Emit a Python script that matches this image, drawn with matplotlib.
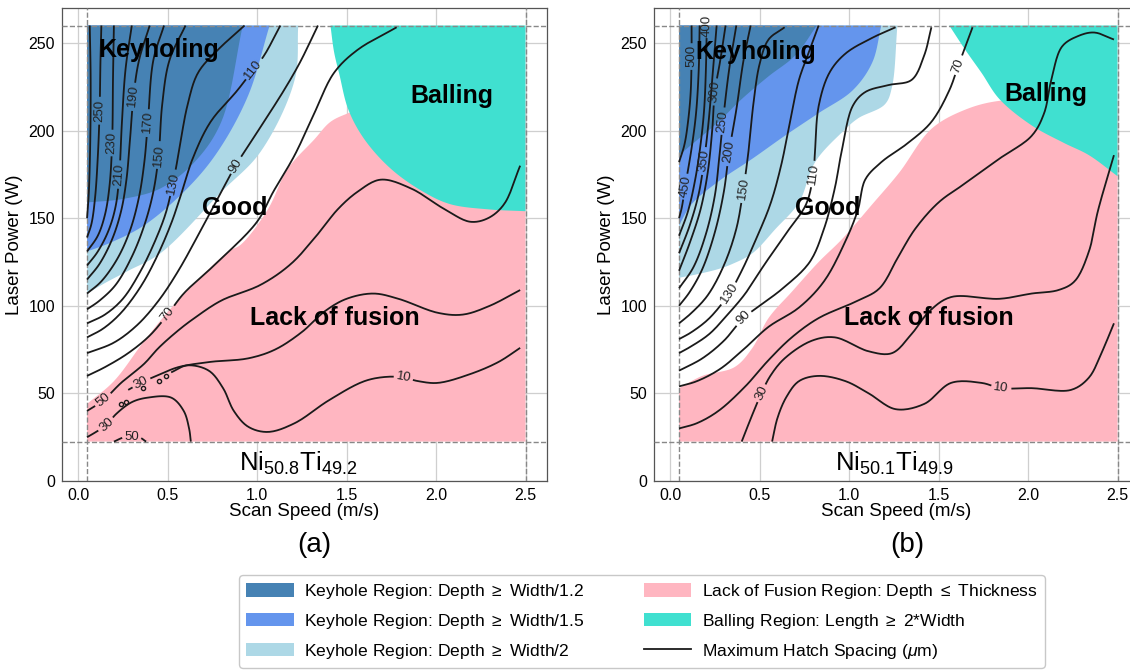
import numpy as np
import matplotlib
matplotlib.use("Agg")
import matplotlib.pyplot as plt
from matplotlib.patches import Patch, Polygon
from matplotlib.lines import Line2D

plt.rcParams['font.family'] = ['Liberation Sans', 'DejaVu Sans']
plt.rcParams['mathtext.fontset'] = 'custom'
plt.rcParams['mathtext.rm'] = 'Liberation Sans'
plt.rcParams['mathtext.it'] = 'Liberation Sans:italic'

# ---------------- process window ----------------
SPEED_LO, SPEED_HI = 0.05, 2.5
POWER_LO, POWER_HI = 22.5, 260.0

C_KEY12 = '#4682B4'
C_KEY15 = '#6495ED'
C_KEY2 = '#ADD8E6'
C_LOF = '#FFB6C1'
C_BALL = '#40E0D0'

# ---------------- Ni50.8Ti49.2 : region boundaries (speed m/s, power W) ----------------
a_key12_v = [0.92, 0.80, 0.65, 0.46, 0.25, 0.05]
a_key12_p = [260, 205, 182, 167, 161, 159]
a_key15_v = [1.07, 0.95, 0.78, 0.61, 0.37, 0.18, 0.05]
a_key15_p = [260, 220, 188, 167, 146, 136, 131]
a_key2_v = [1.23, 1.21, 1.02, 0.80, 0.46, 0.28, 0.15, 0.05]
a_key2_p = [260, 229, 188, 165, 130, 120, 113, 107]
a_lof_v = [0.05, 0.20, 0.37, 0.54, 0.84, 0.91, 1.06, 1.17, 1.32, 1.41, 1.51, 1.62, 2.0, 2.5]
a_lof_p = [44, 57, 80, 101, 131, 135, 155, 178, 195, 205, 210, 214, 214, 214]
a_ball_v = [1.41, 1.43, 1.46, 1.51, 1.60, 1.75, 1.93, 2.08, 2.30, 2.5]
a_ball_p = [260, 245, 232, 212, 195, 178, 165, 158, 155, 154]

# ---------------- Ni50.8Ti49.2 : maximum hatch spacing contours (um) ----------------
a_h270_v = [0.065, 0.07, 0.068, 0.06, 0.05]
a_h270_p = [260, 230, 195, 165, 150]
a_h250_v = [0.13, 0.125, 0.12, 0.11, 0.095, 0.075, 0.05]
a_h250_p = [260, 240, 211, 185, 162, 147, 139]
a_h230_v = [0.20, 0.195, 0.19, 0.175, 0.15, 0.11, 0.05]
a_h230_p = [260, 230, 193, 168, 152, 140, 131]
a_h210_v = [0.30, 0.265, 0.245, 0.23, 0.21, 0.17, 0.11, 0.05]
a_h210_p = [260, 235, 205, 175, 157, 143, 131, 123]
a_h190_v = [0.40, 0.34, 0.31, 0.29, 0.27, 0.24, 0.19, 0.12, 0.05]
a_h190_p = [260, 240, 220, 195, 172, 154, 138, 124, 115]
a_h170_v = [0.48, 0.42, 0.39, 0.37, 0.34, 0.29, 0.22, 0.13, 0.05]
a_h170_p = [260, 240, 205, 182, 162, 143, 127, 114, 107]
a_h150_v = [0.60, 0.51, 0.47, 0.45, 0.42, 0.37, 0.30, 0.21, 0.12, 0.05]
a_h150_p = [260, 240, 215, 186, 165, 146, 128, 112, 103, 98]
a_h130_v = [0.93, 0.78, 0.67, 0.61, 0.56, 0.53, 0.49, 0.43, 0.35, 0.25, 0.15, 0.05]
a_h130_p = [260, 246, 233, 214, 186, 170, 153, 137, 120, 104, 95, 90]
a_h110_v = [1.13, 1.04, 0.98, 0.89, 0.74, 0.64, 0.58, 0.52, 0.44, 0.35, 0.24, 0.14, 0.05]
a_h110_p = [260, 243, 235, 223, 205, 184, 165, 147, 128, 111, 96, 87, 82]
a_h90_v = [1.34, 1.24, 1.15, 1.00, 0.88, 0.81, 0.69, 0.56, 0.45, 0.33, 0.20, 0.05]
a_h90_p = [260, 239, 223, 199, 180, 167, 144, 120, 103, 89, 79, 73]
a_h70_v = [1.78, 1.56, 1.43, 1.32, 1.21, 1.09, 1.00, 0.78, 0.59, 0.50, 0.40, 0.28, 0.15, 0.05]
a_h70_p = [259, 246, 233, 210, 186, 165, 148, 125, 107, 95, 83, 73, 65, 60]
a_h50_v = [2.47, 2.38, 2.29, 2.19, 2.05, 1.86, 1.69, 1.56, 1.45, 1.34, 1.19, 1.02, 0.80,
           0.65, 0.56, 0.45, 0.37, 0.24, 0.14, 0.05]
a_h50_p = [180, 158, 150, 148, 155, 167, 172, 165, 155, 141, 124, 112, 103,
           93, 86, 76, 67, 56, 46, 40]
a_h30_v = [2.47, 2.30, 2.15, 2.01, 1.79, 1.65, 1.50, 1.38, 1.25, 1.10, 0.95, 0.74, 0.56,
           0.46, 0.35, 0.28]
a_h30_p = [109, 100, 95, 96, 104, 107, 104, 97, 85, 75, 70, 68, 65, 61, 56, 52]
a_h10_v = [0.52, 0.61, 0.73, 0.81, 0.87, 0.95, 1.06, 1.21, 1.40, 1.60, 1.73, 1.82, 1.90,
           2.01, 2.19, 2.35, 2.47]
a_h10_p = [62, 66, 63, 53, 40, 31, 28, 33, 46, 57, 59.5, 59, 57, 56, 61, 68, 76]
a_h30b_v = [0.05, 0.10, 0.16, 0.21, 0.30, 0.39, 0.52, 0.59, 0.62, 0.63]
a_h30b_p = [25, 28, 32, 38, 45, 47.6, 47.6, 40, 30, 22.5]
a_h50b_v = [0.20, 0.26, 0.34, 0.38]
a_h50b_p = [22.5, 25, 25, 22.5]
a_isle_v = [0.24, 0.27, 0.36, 0.45, 0.49]
a_isle_p = [44, 45, 53, 57, 60]

a_levels = [270, 250, 230, 210, 190, 170, 150, 130, 110, 90, 70, 50, 30, 10, 30, 50]
a_lab_v = [None, 0.12, 0.19, 0.23, 0.31, 0.39, 0.45, 0.53, 0.98, 0.88, 0.50, 0.14, 0.35, 1.82, 0.16, 0.30]
a_lab_p = [None, 211, 193, 175, 220, 205, 186, 170, 235, 180, 95, 46, 56, 59, 32, 25]

# ---------------- Ni50.1Ti49.9 : region boundaries ----------------
b_key12_v = [0.82, 0.70, 0.55, 0.40, 0.27, 0.12, 0.05]
b_key12_p = [260, 243, 231, 218, 205, 192, 186]
b_key15_v = [1.18, 1.13, 1.02, 0.83, 0.64, 0.46, 0.27, 0.12, 0.05]
b_key15_p = [260, 239, 223, 210, 197, 184, 171, 158, 146]
b_key2_v = [1.27, 1.24, 1.20, 1.05, 0.96, 0.81, 0.72, 0.59, 0.46, 0.35, 0.27, 0.15, 0.05]
b_key2_p = [260, 225, 215, 207, 199, 182, 159, 144, 130, 124, 121, 118, 116]
b_lof_v = [0.05, 0.18, 0.36, 0.46, 0.55, 0.68, 0.83, 0.96, 1.13, 1.28, 1.46, 1.65, 1.84, 2.1, 2.5]
b_lof_p = [53, 60, 65, 76, 93, 108, 125, 138, 158, 176, 201, 212, 217, 217, 217]
b_ball_v = [1.56, 1.65, 1.74, 1.84, 2.02, 2.20, 2.34, 2.5]
b_ball_p = [260, 246, 233, 218, 203, 193, 186, 174]

# ---------------- Ni50.1Ti49.9 : maximum hatch spacing contours (um) ----------------
b_h500_v = [0.12, 0.12, 0.115, 0.10, 0.08, 0.05]
b_h500_p = [260, 244, 222, 205, 192, 182]
b_h450_v = [0.165, 0.16, 0.145, 0.12, 0.084, 0.065, 0.05]
b_h450_p = [260, 235, 210, 190, 168, 156, 150]
b_h400_v = [0.205, 0.20, 0.19, 0.17, 0.14, 0.10, 0.05]
b_h400_p = [260, 235, 212, 192, 172, 154, 140]
b_h350_v = [0.26, 0.24, 0.215, 0.19, 0.16, 0.11, 0.05]
b_h350_p = [260, 235, 205, 183, 164, 146, 130]
b_h300_v = [0.31, 0.28, 0.25, 0.235, 0.21, 0.17, 0.11, 0.05]
b_h300_p = [260, 240, 222, 200, 176, 155, 136, 120]
b_h250_v = [0.37, 0.33, 0.295, 0.275, 0.25, 0.20, 0.13, 0.05]
b_h250_p = [260, 235, 205, 185, 163, 141, 122, 110]
b_h200_v = [0.45, 0.41, 0.37, 0.33, 0.30, 0.25, 0.18, 0.11, 0.05]
b_h200_p = [260, 240, 212, 188, 165, 142, 121, 108, 100]
b_h150_v = [0.64, 0.55, 0.50, 0.465, 0.44, 0.41, 0.37, 0.30, 0.21, 0.12, 0.05]
b_h150_p = [259, 252, 238, 215, 190, 167, 144, 123, 106, 96, 90]
b_h130_v = [0.83, 0.78, 0.72, 0.67, 0.62, 0.56, 0.48, 0.40, 0.33, 0.22, 0.12, 0.05]
b_h130_p = [260, 246, 229, 205, 180, 158, 138, 120, 107, 93, 85, 81]
b_h110_v = [1.26, 1.13, 0.98, 0.89, 0.83, 0.81, 0.80, 0.76, 0.66, 0.53, 0.42, 0.33, 0.22, 0.12, 0.05]
b_h110_p = [259, 253, 244, 233, 214, 189, 175, 158, 143, 124, 107, 96, 84, 77, 73]
b_h90_v = [1.46, 1.42, 1.35, 1.22, 1.09, 1.02, 0.96, 0.92, 0.86, 0.78, 0.63, 0.50, 0.41, 0.30,
           0.18, 0.05]
b_h90_p = [259, 243, 229, 226, 222, 214, 189, 167, 144, 125, 110, 100, 93, 80, 70, 63]
b_h70_v = [1.69, 1.61, 1.56, 1.46, 1.33, 1.18, 1.09, 1.05, 0.98, 0.86, 0.72, 0.55, 0.42, 0.28,
           0.15, 0.05]
b_h70_p = [259, 237, 223, 205, 193, 182, 172, 155, 137, 114, 99, 88, 76, 64, 57, 54]
b_h50_v = [2.48, 2.37, 2.28, 2.19, 2.13, 2.09, 2.02, 1.84, 1.65, 1.50, 1.37, 1.28, 1.17, 1.05,
           0.83, 0.68, 0.55, 0.42, 0.27, 0.15, 0.05]
b_h50_p = [252, 256, 254, 248, 229, 210, 197, 184, 170, 159, 144, 129, 110, 103,
           93, 82, 69, 54, 40, 33, 30]
b_h30_v = [2.48, 2.39, 2.34, 2.26, 2.17, 2.02, 1.84, 1.57, 1.45, 1.35, 1.24, 1.11, 0.92, 0.79,
           0.64, 0.56, 0.51, 0.46, 0.40]
b_h30_p = [186, 154, 131, 114, 109, 107, 104, 105, 97, 84, 73, 74, 82, 80, 70, 60, 50, 38, 22.5]
b_h10_v = [2.48, 2.41, 2.34, 2.24, 2.02, 1.85, 1.74, 1.57, 1.42, 1.26, 1.11, 0.98, 0.83, 0.72,
           0.65, 0.60, 0.57]
b_h10_p = [90, 73, 59, 52, 53, 53, 56, 56, 44, 41, 50, 57, 60, 57, 48, 36, 22.5]

b_levels = [500, 450, 400, 350, 300, 250, 200, 150, 130, 110, 90, 70, 50, 30, 10]
b_lab_v = [0.12, 0.084, 0.205, 0.19, 0.25, 0.295, 0.33, 0.41, 0.33, 0.80, 0.41, 1.61, None, 0.51, 1.85]
b_lab_p = [243, 168, 259.5, 183, 222, 205, 188, 167, 107, 175, 93, 237, None, 50, 53]

region_labels = ['Keyhole Region: Depth $\\geq$ Width/1.2',
                 'Keyhole Region: Depth $\\geq$ Width/1.5',
                 'Keyhole Region: Depth $\\geq$ Width/2',
                 'Lack of Fusion Region: Depth $\\leq$ Thickness',
                 'Balling Region: Length $\\geq$ 2*Width',
                 'Maximum Hatch Spacing ($\\mu$m)']
alloy_names = ['Ni$_{50.8}$Ti$_{49.2}$', 'Ni$_{50.1}$Ti$_{49.9}$']
panel_tags = ['(a)', '(b)']

# --------------------------------------------------------------------------


def smooth_path(pts, n=14):
    """Centripetal Catmull-Rom curve through the given display-space points."""
    pts = np.asarray(pts, float)
    if len(pts) < 3:
        return np.linspace(pts[0], pts[-1], n)
    P = np.vstack([2 * pts[0] - pts[1], pts, 2 * pts[-1] - pts[-2]])
    out = []
    for i in range(1, len(P) - 2):
        p0, p1, p2, p3 = P[i - 1], P[i], P[i + 1], P[i + 2]
        d01 = max(np.hypot(*(p1 - p0)), 1e-6) ** 0.5
        d12 = max(np.hypot(*(p2 - p1)), 1e-6) ** 0.5
        d23 = max(np.hypot(*(p3 - p2)), 1e-6) ** 0.5
        t0, t1 = 0.0, d01
        t2 = t1 + d12
        t3 = t2 + d23
        t = np.linspace(t1, t2, n, endpoint=False)[:, None]
        A1 = (t1 - t) / (t1 - t0) * p0 + (t - t0) / (t1 - t0) * p1
        A2 = (t2 - t) / (t2 - t1) * p1 + (t - t1) / (t2 - t1) * p2
        A3 = (t3 - t) / (t3 - t2) * p2 + (t - t2) / (t3 - t2) * p3
        B1 = (t2 - t) / (t2 - t0) * A1 + (t - t0) / (t2 - t0) * A2
        B2 = (t3 - t) / (t3 - t1) * A2 + (t - t1) / (t3 - t1) * A3
        out.append((t2 - t) / (t2 - t1) * B1 + (t - t1) / (t2 - t1) * B2)
    out.append(pts[-1:])
    return np.vstack(out)


def corner_region(ax, v, p, corners, color):
    disp = ax.transData.transform(np.column_stack([v, p]))
    curve = ax.transData.inverted().transform(smooth_path(disp))
    pts = np.vstack([curve, np.asarray(corners, float)])
    ax.add_patch(Polygon(pts, closed=True, facecolor=color, edgecolor='none', zorder=1))


def hatch_line(ax, v, p, text=None, at=None):
    disp = ax.transData.transform(np.column_stack([v, p]))
    dense = smooth_path(disp).astype(float)
    if text is not None and at is not None and at[0] is not None:
        c = ax.transData.transform(at)
        k = int(np.argmin(np.hypot(*(dense - c).T)))
        a = dense[max(k - 5, 0)]
        b = dense[min(k + 5, len(dense) - 1)]
        ang = np.degrees(np.arctan2(b[1] - a[1], b[0] - a[0]))
        if ang > 90:
            ang -= 180
        if ang < -90:
            ang += 180
        centre = dense[k].copy()
        half = 0.5 * (len(text) * 6.3 + 6)
        dense[np.hypot(*(dense - centre).T) < half] = np.nan
        tx, ty = ax.transData.inverted().transform(centre)
        ax.text(tx, ty, text, rotation=ang, rotation_mode='anchor', ha='center', va='center',
                fontsize=9.5, color='#222222', zorder=5)
    data = ax.transData.inverted().transform(dense)
    ax.plot(data[:, 0], data[:, 1], color='#1a1a1a', lw=1.3, zorder=4, solid_capstyle='butt')


fig = plt.figure(figsize=(11.3, 6.72), dpi=100)
ax_a = fig.add_axes([62 / 1130, 1 - 481 / 672, 485 / 1130, 473 / 672])
ax_b = fig.add_axes([654 / 1130, 1 - 481 / 672, 485 / 1130, 473 / 672])

panels = [
    (ax_a,
     (a_key12_v, a_key12_p), (a_key15_v, a_key15_p), (a_key2_v, a_key2_p),
     (a_lof_v, a_lof_p), (a_ball_v, a_ball_p),
     [(a_h270_v, a_h270_p), (a_h250_v, a_h250_p), (a_h230_v, a_h230_p), (a_h210_v, a_h210_p),
      (a_h190_v, a_h190_p), (a_h170_v, a_h170_p), (a_h150_v, a_h150_p), (a_h130_v, a_h130_p),
      (a_h110_v, a_h110_p), (a_h90_v, a_h90_p), (a_h70_v, a_h70_p), (a_h50_v, a_h50_p),
      (a_h30_v, a_h30_p), (a_h10_v, a_h10_p), (a_h30b_v, a_h30b_p), (a_h50b_v, a_h50b_p)],
     a_levels, a_lab_v, a_lab_p),
    (ax_b,
     (b_key12_v, b_key12_p), (b_key15_v, b_key15_p), (b_key2_v, b_key2_p),
     (b_lof_v, b_lof_p), (b_ball_v, b_ball_p),
     [(b_h500_v, b_h500_p), (b_h450_v, b_h450_p), (b_h400_v, b_h400_p), (b_h350_v, b_h350_p),
      (b_h300_v, b_h300_p), (b_h250_v, b_h250_p), (b_h200_v, b_h200_p), (b_h150_v, b_h150_p),
      (b_h130_v, b_h130_p), (b_h110_v, b_h110_p), (b_h90_v, b_h90_p), (b_h70_v, b_h70_p),
      (b_h50_v, b_h50_p), (b_h30_v, b_h30_p), (b_h10_v, b_h10_p)],
     b_levels, b_lab_v, b_lab_p),
]

text_pos = [
    dict(key=(0.45, 246), ball=(2.09, 220), good=(0.876, 156), lof=(1.434, 93), alloy=(1.23, 10)),
    dict(key=(0.48, 245), ball=(2.10, 221), good=(0.88, 156), lof=(1.445, 93), alloy=(1.25, 10)),
]

for idx, (ax, k12, k15, k2, lof, ball, lines, levels, lab_v, lab_p) in enumerate(panels):
    ax.set_xlim(-0.09, 2.62)
    ax.set_ylim(0, 270)
    ax.set_xticks([0.0, 0.5, 1.0, 1.5, 2.0, 2.5])
    ax.set_yticks([0, 50, 100, 150, 200, 250])
    ax.tick_params(labelsize=11.5, length=0, pad=5)
    ax.grid(True, color='#cfcfcf', lw=0.9, zorder=0)
    ax.set_axisbelow(True)
    for s in ax.spines.values():
        s.set_color('#555555')
        s.set_linewidth(0.9)
    ax.set_xlabel('Scan Speed (m/s)', fontsize=13.5, labelpad=0)
    ax.set_ylabel('Laser Power (W)', fontsize=13.5, labelpad=4)

    corner_region(ax, lof[0], lof[1], [(SPEED_HI, POWER_LO), (SPEED_LO, POWER_LO)], C_LOF)
    corner_region(ax, ball[0], ball[1], [(SPEED_HI, POWER_HI)], C_BALL)
    corner_region(ax, k2[0], k2[1], [(SPEED_LO, POWER_HI)], C_KEY2)
    corner_region(ax, k15[0], k15[1], [(SPEED_LO, POWER_HI)], C_KEY15)
    corner_region(ax, k12[0], k12[1], [(SPEED_LO, POWER_HI)], C_KEY12)

    for (v, p), lev, lv, lp in zip(lines, levels, lab_v, lab_p):
        hatch_line(ax, v, p, str(lev) if lv is not None else None, (lv, lp))

    if idx == 0:
        ax.plot(a_isle_v, a_isle_p, 'o', ms=3, mfc='none', mec='#1a1a1a', mew=1.0, zorder=4)

    for yv in (POWER_LO, POWER_HI):
        ax.axhline(yv, color='#888888', ls='--', lw=1.0, zorder=3)
    for xv in (SPEED_LO, SPEED_HI):
        ax.axvline(xv, color='#888888', ls='--', lw=1.0, zorder=3)

    tp = text_pos[idx]
    bold = dict(fontsize=18, fontweight='bold', ha='center', va='center', zorder=6)
    ax.text(*tp['key'], 'Keyholing', **bold)
    ax.text(*tp['ball'], 'Balling', **bold)
    ax.text(*tp['good'], 'Good', **bold)
    ax.text(*tp['lof'], 'Lack of fusion', **bold)
    ax.text(*tp['alloy'], alloy_names[idx], fontsize=18.5, ha='center', va='center', zorder=6)

fig.text(314 / 1130, 1 - 545 / 672, panel_tags[0], fontsize=20, ha='center', va='center')
fig.text(907 / 1130, 1 - 545 / 672, panel_tags[1], fontsize=20, ha='center', va='center')

handles = [Patch(facecolor=C_KEY12), Patch(facecolor=C_KEY15), Patch(facecolor=C_KEY2),
           Patch(facecolor=C_LOF), Patch(facecolor=C_BALL), Line2D([], [], color='#1a1a1a', lw=1.3)]
leg = fig.legend(handles, region_labels, loc='upper center', bbox_to_anchor=(642 / 1130, 1 - 575 / 672),
                 ncol=2, fontsize=12.6, frameon=True, handlelength=2.7, handleheight=0.8,
                 labelspacing=0.62, columnspacing=3.4, handletextpad=0.6, borderpad=0.4,
                 borderaxespad=0.0, fancybox=True)
leg.get_frame().set_edgecolor('#bbbbbb')

fig.savefig('out.png', dpi=100)
